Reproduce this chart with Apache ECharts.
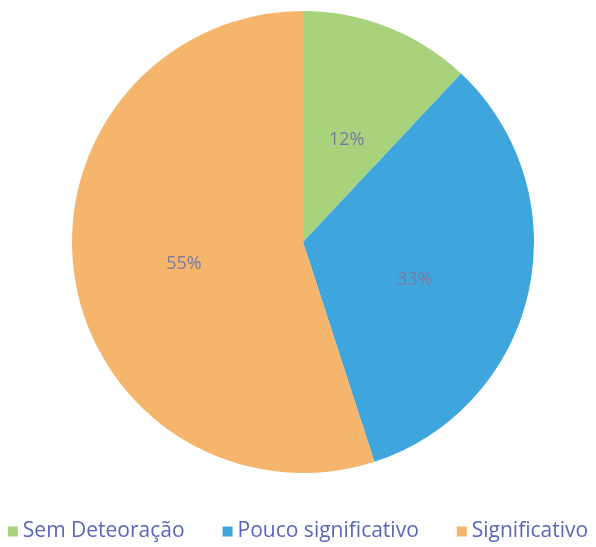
<!DOCTYPE html>
<html>
<head>
<meta charset="utf-8">
<script src="https://cdn.jsdelivr.net/npm/echarts@6/dist/echarts.min.js"></script>
<style>
  html, body { margin: 0; padding: 0; background: #fff; }
  #chart { width: 596px; height: 547px; }
</style>
</head>
<body>
<div id="chart"></div>
<script>
// dados
const categories = ['Sem Deteoração', 'Pouco significativo', 'Significativo']
const values = [12, 33, 55]
const colors = ['#a9d27c', '#3fa6dd', '#f5b56c']
// pequenos ajustes das etiquetas (o Excel não as põe exatamente no meio)
const labelOffsets = [[0, 8], [-4, 12], [-2, 3]]

const chart = echarts.init(document.getElementById('chart'))

const option = {
  backgroundColor: '#ffffff',
  color: colors,
  legend: {
    top: 516,
    left: 'center',
    itemWidth: 10,
    itemHeight: 10,
    itemGap: 38,
    icon: 'rect',
    textStyle: {
      fontFamily: 'Open Sans',
      fontSize: 21,
      color: '#5b66b8'
    },
    data: categories
  },
  series: [
    {
      type: 'pie',
      center: [303, 242],
      radius: 231,
      startAngle: 90,
      clockwise: true,
      silent: true,
      label: {
        show: true,
        position: 'inside',
        formatter: '{c}%',
        fontFamily: 'Open Sans',
        fontSize: 18,
        color: '#7a7aa0'
      },
      labelLine: { show: false },
      itemStyle: { borderWidth: 0 },
      data: categories.map((name, i) => ({
        name: name,
        value: values[i],
        label: { offset: labelOffsets[i] }
      }))
    }
  ]
}

chart.setOption(option)
</script>
</body>
</html>
